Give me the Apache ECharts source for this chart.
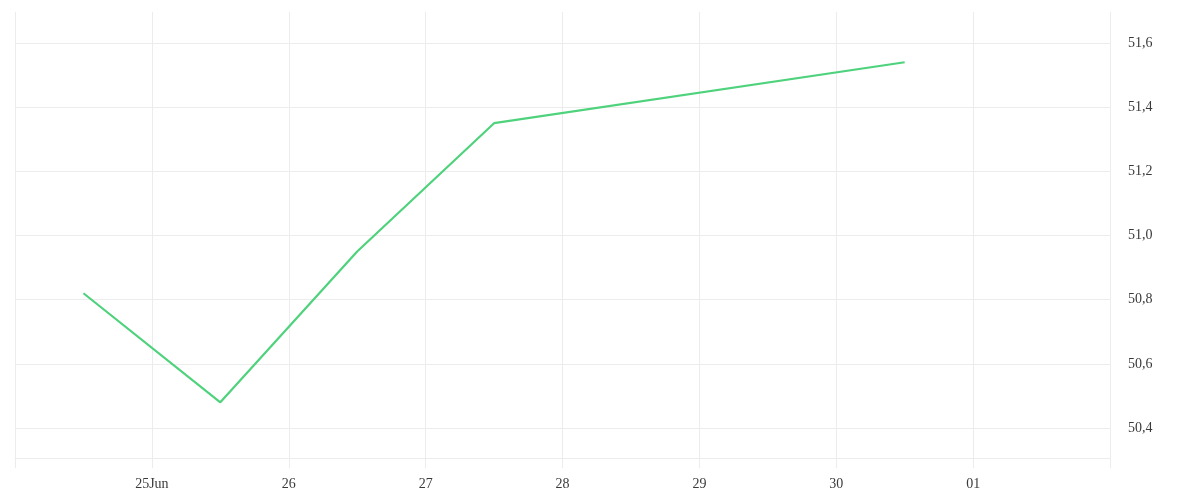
<!DOCTYPE html>
<html><head><meta charset="utf-8">
<script src="https://cdn.jsdelivr.net/npm/echarts@6/dist/echarts.min.js"></script>
<style>html,body{margin:0;padding:0;background:#fff}#c{width:1200px;height:500px}</style>
</head><body><div id="c"></div>
<script>
// day of June (noon = .5)
const days = [24.5, 25.5, 26.5, 27.5, 30.5];
const values = [50.82, 50.48, 50.95, 51.35, 51.54];
const xTickLabels = {25: '25Jun', 26: '26', 27: '27', 28: '28', 29: '29', 30: '30', 31: '01'};

const chart = echarts.init(document.getElementById('c'));
const gridColor = '#ececec';
const font = {fontFamily: 'Liberation Serif', fontSize: 14, color: '#3a3a3a'};
chart.setOption({
  animation: false,
  grid: {left: 15, right: 90, top: 12, bottom: 42},
  xAxis: {
    type: 'value', min: 24, max: 32, interval: 1,
    axisLine: {show: true, lineStyle: {color: gridColor}},
    axisTick: {show: true, length: 10, lineStyle: {color: gridColor}},
    splitLine: {show: true, lineStyle: {color: gridColor}},
    axisLabel: Object.assign({margin: 19, formatter: v => xTickLabels[v] || ''}, font)
  },
  yAxis: {
    type: 'value', position: 'right', min: 50.3065, max: 51.6966, splitNumber: 7,
    axisLine: {show: false}, axisTick: {show: false},
    splitLine: {show: true, showMinLine: false, showMaxLine: false, lineStyle: {color: gridColor}},
    axisLabel: Object.assign({margin: 18, padding: [5, 0, 0, 0], showMinLabel: false, showMaxLabel: false,
      formatter: v => v.toFixed(1).replace('.', ',')}, font)
  },
  series: [{
    type: 'line', showSymbol: false, symbol: 'none',
    data: days.map((d, i) => [d, values[i]]),
    lineStyle: {color: '#4ed27c', width: 2.2}
  }]
});
</script></body></html>
